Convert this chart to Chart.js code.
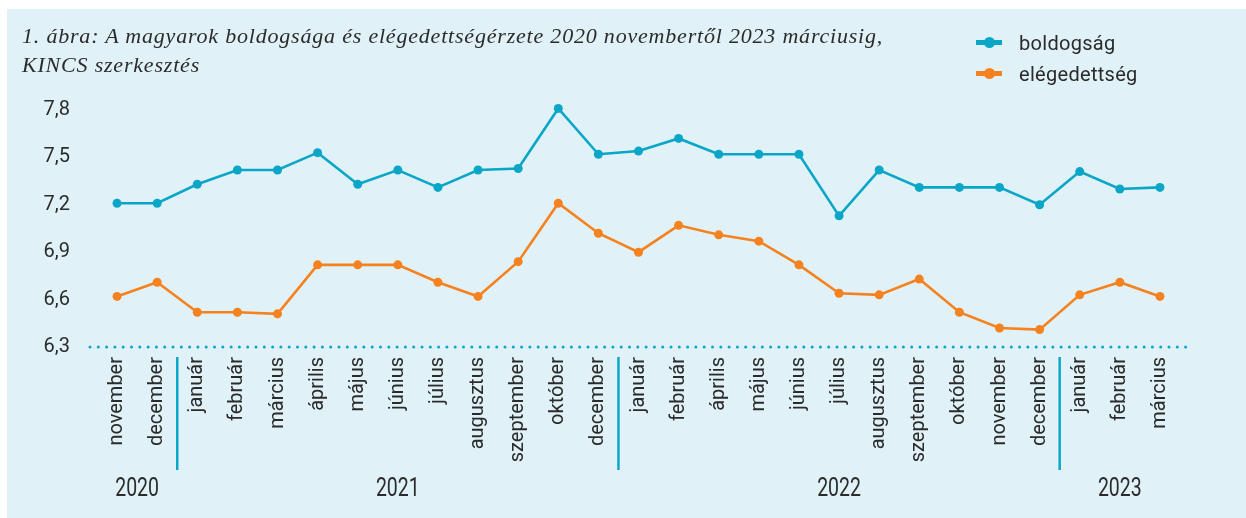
<!DOCTYPE html>
<html lang="hu">
<head>
<meta charset="utf-8">
<title>Boldogság és elégedettség</title>
<script src="https://cdn.jsdelivr.net/npm/chart.js@4.4.1/dist/chart.umd.min.js"></script>
<style>
  html, body { margin: 0; padding: 0; background: #fff; }
  #keret { position: relative; width: 1246px; height: 518px; overflow: hidden; }
  #hatter { position: absolute; left: 7px; top: 9px; right: 0; bottom: 0; background: #e0f2f7; }
  #grafikon { position: absolute; left: 0; top: 0; }
  #cim { position: absolute; left: 22px; top: 21px; font: italic 22px "Liberation Serif", serif;
         letter-spacing: 0.8px; color: #2b2b2b; line-height: 29px; }
  #jelmagyarazat { position: absolute; left: 976px; top: 27px; font: 20px Roboto, sans-serif; color: #2b2b2b; letter-spacing: 0.3px; }
  .tetel { display: flex; align-items: center; height: 31px; }
  .jel { position: relative; width: 26px; height: 5px; margin-right: 17px; }
  .jel::after { content: ""; position: absolute; left: 8px; top: -3px; width: 11px; height: 11px; border-radius: 50%; background: inherit; }
</style>
</head>
<body>
<div id="keret">
  <div id="hatter"></div>
  <canvas id="grafikon" width="1246" height="518"></canvas>
  <div id="cim">1. ábra: A magyarok boldogsága és elégedettségérzete 2020 novembertől 2023 márciusig,<br>KINCS szerkesztés</div>
  <div id="jelmagyarazat">
    <div class="tetel"><span class="jel" style="background:#0aa6c8"></span>boldogság</div>
    <div class="tetel"><span class="jel" style="background:#f5821f"></span>elégedettség</div>
  </div>
</div>
<script>
"use strict";

const honapok = [
  "november", "december",
  "január", "február", "március", "április", "május", "június", "július", "augusztus", "szeptember", "október", "december",
  "január", "február", "április", "május", "június", "július", "augusztus", "szeptember", "október", "november", "december",
  "január", "február", "március"
];
const evek = ["2020", "2021", "2022", "2023"];
const evKezdet = [0, 2, 13, 24];   // az egyes évek első hónapjának indexe

const boldogsag = [
  7.21, 7.21,
  7.33, 7.42, 7.42, 7.53, 7.33, 7.42, 7.31, 7.42, 7.43, 7.81, 7.52,
  7.54, 7.62, 7.52, 7.52, 7.52, 7.13, 7.42, 7.31, 7.31, 7.31, 7.20,
  7.41, 7.30, 7.31
];
const elegedettseg = [
  6.62, 6.71,
  6.52, 6.52, 6.51, 6.82, 6.82, 6.82, 6.71, 6.62, 6.84, 7.21, 7.02,
  6.90, 7.07, 7.01, 6.97, 6.82, 6.64, 6.63, 6.73, 6.52, 6.42, 6.41,
  6.63, 6.71, 6.62
];
const yErtekek = [6.3, 6.6, 6.9, 7.2, 7.5, 7.8];

const KEK = "#0aa6c8";
const NARANCS = "#f5821f";
const SZOVEG = "#2b2b2b";

const evJelolo = {
  id: "evJelolo",
  beforeDatasetsDraw(chart) {
    const { ctx, chartArea, scales } = chart;
    const x = scales.x, y = scales.y;
    ctx.save();

    // pontozott alapvonal
    const alap = y.getPixelForValue(yErtekek[0]);
    ctx.fillStyle = KEK;
    for (let px = chartArea.left - 7; px <= chartArea.right + 7; px += 8.3) {
      ctx.beginPath();
      ctx.arc(px, alap, 1.5, 0, Math.PI * 2);
      ctx.fill();
    }

    // évelválasztók
    ctx.strokeStyle = KEK;
    ctx.lineWidth = 2.5;
    evKezdet.slice(1).forEach(i => {
      const px = (x.getPixelForValue(i - 1) + x.getPixelForValue(i)) / 2;
      ctx.beginPath();
      ctx.moveTo(px, chartArea.bottom + 10);
      ctx.lineTo(px, chartArea.bottom + 123);
      ctx.stroke();
    });

    // évszámok (keskenyített betű)
    ctx.fillStyle = SZOVEG;
    ctx.font = '25px Roboto, sans-serif';
    ctx.textAlign = "center";
    ctx.textBaseline = "middle";
    evek.forEach((ev, k) => {
      const elso = evKezdet[k];
      const utolso = k + 1 < evKezdet.length ? evKezdet[k + 1] - 1 : honapok.length - 1;
      const px = (x.getPixelForValue(elso) + x.getPixelForValue(utolso)) / 2;
      ctx.save();
      ctx.translate(px, chartArea.bottom + 143);
      ctx.scale(0.78, 1);
      ctx.fillText(ev, 0, 0);
      ctx.restore();
    });
    ctx.restore();
  }
};

new Chart(document.getElementById("grafikon").getContext("2d"), {
  type: "line",
  data: {
    labels: honapok,
    datasets: [
      { label: "boldogság", data: boldogsag, borderColor: KEK, backgroundColor: KEK,
        pointBackgroundColor: KEK, borderWidth: 2.6, pointRadius: 4.5, pointBorderWidth: 0, tension: 0, clip: false },
      { label: "elégedettség", data: elegedettseg, borderColor: NARANCS, backgroundColor: NARANCS,
        pointBackgroundColor: NARANCS, borderWidth: 2.6, pointRadius: 4.5, pointBorderWidth: 0, tension: 0, clip: false }
    ]
  },
  options: {
    responsive: false,
    devicePixelRatio: 1,
    animation: false,
    layout: { padding: { top: 110, right: 66, left: 0, bottom: 0 } },
    plugins: { legend: { display: false }, tooltip: { enabled: false } },
    scales: {
      x: {
        offset: true,
        grid: { display: false, drawTicks: false },
        border: { display: false },
        ticks: { color: SZOVEG, font: { family: "Roboto", size: 20 }, minRotation: 90, maxRotation: 90,
                 autoSkip: false, padding: 10 },
        afterFit: s => { s.height = 171; }
      },
      y: {
        min: 6.3, max: 7.8,
        grid: { display: false, drawTicks: false },
        border: { display: false },
        afterBuildTicks: s => { s.ticks = yErtekek.map(v => ({ value: v })); },
        ticks: { color: SZOVEG, font: { family: "Roboto", size: 20 }, padding: 27,
                 callback: v => v.toFixed(1).replace(".", ",") },
        afterFit: s => { s.width = 97; }
      }
    }
  },
  plugins: [evJelolo]
});
</script>
</body>
</html>
